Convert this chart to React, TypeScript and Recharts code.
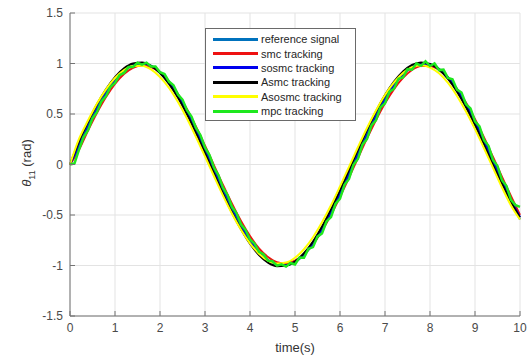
import React from 'react';
import { LineChart, Line, XAxis, YAxis, CartesianGrid, Legend } from 'recharts';

// time bases (s)
const timeCoarse = [
  0, 0.2, 0.4, 0.6, 0.8, 1, 1.2, 1.4, 1.6, 1.8, 2, 2.2, 2.4, 2.6, 2.8, 3, 3.2, 3.4, 3.6, 3.8,
  4, 4.2, 4.4, 4.6, 4.8, 5, 5.2, 5.4, 5.6, 5.8, 6, 6.2, 6.4, 6.6, 6.8, 7, 7.2, 7.4, 7.6, 7.8,
  8, 8.2, 8.4, 8.6, 8.8, 9, 9.2, 9.4, 9.6, 9.8, 10,
];
const timeFine = [
  0, 0.1, 0.2, 0.3, 0.4, 0.5, 0.6, 0.7, 0.8, 0.9,
  1, 1.1, 1.2, 1.3, 1.4, 1.5, 1.6, 1.7, 1.8, 1.9,
  2, 2.1, 2.2, 2.3, 2.4, 2.5, 2.6, 2.7, 2.8, 2.9,
  3, 3.1, 3.2, 3.3, 3.4, 3.5, 3.6, 3.7, 3.8, 3.9,
  4, 4.1, 4.2, 4.3, 4.4, 4.5, 4.6, 4.7, 4.8, 4.9,
  5, 5.1, 5.2, 5.3, 5.4, 5.5, 5.6, 5.7, 5.8, 5.9,
  6, 6.1, 6.2, 6.3, 6.4, 6.5, 6.6, 6.7, 6.8, 6.9,
  7, 7.1, 7.2, 7.3, 7.4, 7.5, 7.6, 7.7, 7.8, 7.9,
  8, 8.1, 8.2, 8.3, 8.4, 8.5, 8.6, 8.7, 8.8, 8.9,
  9, 9.1, 9.2, 9.3, 9.4, 9.5, 9.6, 9.7, 9.8, 9.9,
  10,
];

// theta_11 (rad)
const referenceSignal = [
  0, 0.199, 0.389, 0.565, 0.717, 0.841, 0.932, 0.985, 1.0, 0.974, 0.909, 0.809, 0.676, 0.516, 0.335, 0.141,
  -0.058, -0.256, -0.443, -0.612, -0.757, -0.872, -0.952, -0.994, -0.996, -0.959, -0.884, -0.773, -0.631,
  -0.465, -0.279, -0.083, 0.117, 0.312, 0.494, 0.657, 0.794, 0.899, 0.968, 0.999, 0.989, 0.941, 0.855,
  0.734, 0.585, 0.412, 0.223, 0.025, -0.174, -0.367, -0.544,
];
const smcTracking = [
  0, 0.146, 0.336, 0.512, 0.668, 0.797, 0.895, 0.956, 0.98, 0.964, 0.91, 0.82, 0.697, 0.547, 0.374, 0.186,
  -0.008, -0.203, -0.389, -0.56, -0.709, -0.83, -0.916, -0.967, -0.979, -0.952, -0.887, -0.79, -0.656,
  -0.498, -0.32, -0.13, 0.066, 0.259, 0.441, 0.606, 0.747, 0.858, 0.936, 0.975, 0.975, 0.937, 0.86, 0.75,
  0.611, 0.448, 0.267, 0.074, -0.122, -0.314, -0.5,
];
const sosmcTracking = [
  0, 0.179, 0.371, 0.548, 0.703, 0.83, 0.925, 0.982, 1.0, 0.979, 0.917, 0.821, 0.691, 0.533, 0.354, 0.161,
  -0.038, -0.237, -0.425, -0.596, -0.744, -0.862, -0.946, -0.992, -0.998, -0.965, -0.893, -0.786, -0.647,
  -0.483, -0.298, -0.103, 0.097, 0.293, 0.477, 0.642, 0.782, 0.89, 0.963, 0.998, 0.992, 0.948, 0.865,
  0.748, 0.601, 0.43, 0.243, 0.045, -0.154, -0.348, -0.52,
];
const asmcTracking = [
  0, 0.23, 0.421, 0.596, 0.745, 0.866, 0.952, 1.0, 1.009, 0.977, 0.906, 0.799, 0.661, 0.495, 0.31, 0.112,
  -0.089, -0.288, -0.475, -0.642, -0.785, -0.896, -0.971, -1.007, -1.003, -0.96, -0.879, -0.762, -0.614,
  -0.442, -0.253, -0.054, 0.148, 0.343, 0.525, 0.687, 0.82, 0.921, 0.986, 1.011, 0.995, 0.94, 0.847, 0.721,
  0.567, 0.389, 0.196, -0.005, -0.19, -0.37, -0.525,
];
const asosmcTracking = [
  0, 0.253, 0.435, 0.603, 0.744, 0.856, 0.935, 0.975, 0.978, 0.941, 0.866, 0.759, 0.619, 0.456, 0.272, 0.08,
  -0.116, -0.308, -0.487, -0.646, -0.78, -0.883, -0.951, -0.981, -0.971, -0.923, -0.839, -0.72, -0.572,
  -0.404, -0.217, -0.023, 0.173, 0.362, 0.535, 0.688, 0.813, 0.907, 0.963, 0.982, 0.96, 0.903, 0.808,
  0.679, 0.525, 0.35, 0.161, -0.034, -0.228, -0.405, -0.545,
];
const mpcTracking = [
  0, 0.01, 0.148, 0.27, 0.34, 0.456, 0.52, 0.625, 0.677, 0.77,
  0.808, 0.885, 0.906, 0.965, 0.966, 1.007, 0.989, 1.009, 0.971, 0.971,
  0.914, 0.895, 0.821, 0.785, 0.693, 0.643, 0.538, 0.475, 0.361, 0.29,
  0.169, 0.094, -0.03, -0.107, -0.229, -0.302, -0.419, -0.484, -0.592, -0.647,
  -0.743, -0.783, -0.864, -0.888, -0.952, -0.958, -1.002, -0.988, -1.011, -0.975,
  -0.99, -0.921, -0.923, -0.834, -0.818, -0.714, -0.682, -0.564, -0.52, -0.391,
  -0.337, -0.201, -0.143, -0.003, 0.057, 0.196, 0.254, 0.388, 0.439, 0.565,
  0.607, 0.722, 0.75, 0.849, 0.861, 0.944, 0.938, 1.002, 0.977, 1.021,
  0.975, 1.0, 0.935, 0.939, 0.856, 0.843, 0.741, 0.713, 0.597, 0.556,
  0.428, 0.377, 0.242, 0.185, 0.045, -0.015, -0.155, -0.214, -0.35, -0.402,
  -0.42,
];

const xTicks = [0, 1, 2, 3, 4, 5, 6, 7, 8, 9, 10];
const yTicks = [-1.5, -1, -0.5, 0, 0.5, 1, 1.5];

const seriesNames = ['reference signal', 'smc tracking', 'sosmc tracking', 'Asmc tracking', 'Asosmc tracking', 'mpc tracking'];
const seriesColors = ['#0072BD', '#ee1111', '#0000ee', '#000000', '#ffff00', '#1ee81e'];

const toPoints = (ts: number[], ys: number[]) => ts.map((t, i) => ({ t, y: ys[i] }));

const series = [
  { data: toPoints(timeCoarse, referenceSignal), width: 2, type: 'monotone' },
  { data: toPoints(timeCoarse, smcTracking), width: 2, type: 'monotone' },
  { data: toPoints(timeCoarse, sosmcTracking), width: 2, type: 'monotone' },
  { data: toPoints(timeCoarse, asmcTracking), width: 2, type: 'monotone' },
  { data: toPoints(timeCoarse, asosmcTracking), width: 2, type: 'monotone' },
  { data: toPoints(timeFine, mpcTracking), width: 2.5, type: 'linear' },
];

const FONT = '"Liberation Sans", Arial, Helvetica, sans-serif';
const AXIS = '#737373';
const tickStyle = { fill: '#4a4a4a', fontSize: 12, fontFamily: FONT };

const YLabel = () => (
  <text transform="translate(31,163) rotate(-90)" textAnchor="middle" fill="#333" fontSize={13} fontFamily={FONT}>
    <tspan fontStyle="italic">θ</tspan>
    <tspan dy={4} fontSize={9}>11</tspan>
    <tspan dy={-4}> (rad)</tspan>
  </text>
);

const LegendBox = () => (
  <div
    style={{
      width: 151,
      height: 93,
      boxSizing: 'border-box',
      border: '1px solid #6a6a6a',
      background: '#fff',
      padding: '3px 0 0 7px',
      fontFamily: FONT,
      fontSize: 11,
      color: '#262626',
      textAlign: 'left',
    }}
  >
    {seriesNames.map((name, i) => (
      <div key={name} style={{ display: 'flex', alignItems: 'center', height: 14.4, whiteSpace: 'nowrap' }}>
        <span style={{ display: 'inline-block', width: 45, borderTop: `3px solid ${seriesColors[i]}`, marginRight: 3 }} />
        <span>{name}</span>
      </div>
    ))}
  </div>
);

export default function App() {
  return (
    <div style={{ position: 'absolute', left: 0, top: 0, width: 529, height: 358, background: '#fff' }}>
      <LineChart width={529} height={358} margin={{ top: 13, right: 9, bottom: 0, left: 0 }}>
        <CartesianGrid stroke="#e3e3e3" />
        <XAxis
          dataKey="t"
          type="number"
          domain={[0, 10]}
          ticks={xTicks}
          allowDuplicatedCategory={false}
          height={42}
          stroke={AXIS}
          tickSize={-5}
          tickMargin={12}
          tick={tickStyle}
          label={{ value: 'time(s)', position: 'insideBottom', offset: 6, fill: '#333', fontSize: 13, fontFamily: FONT }}
        />
        <XAxis
          xAxisId="top"
          orientation="top"
          dataKey="t"
          type="number"
          domain={[0, 10]}
          ticks={xTicks}
          height={0}
          stroke={AXIS}
          tickSize={-5}
          tickFormatter={() => ''}
        />
        <YAxis
          type="number"
          domain={[-1.5, 1.5]}
          ticks={yTicks}
          width={70}
          stroke={AXIS}
          tickSize={-5}
          tickMargin={12}
          tick={tickStyle}
          tickFormatter={(v: number) => String(v)}
          label={<YLabel />}
        />
        <YAxis
          yAxisId="right"
          orientation="right"
          type="number"
          domain={[-1.5, 1.5]}
          ticks={yTicks}
          width={0}
          stroke={AXIS}
          tickSize={-5}
          tickFormatter={() => ''}
        />
        {series.map((s, i) => (
          <Line
            key={seriesNames[i]}
            data={s.data}
            dataKey="y"
            name={seriesNames[i]}
            type={s.type as 'monotone' | 'linear'}
            stroke={seriesColors[i]}
            strokeWidth={s.width}
            dot={false}
            isAnimationActive={false}
          />
        ))}
        <Legend
          layout="vertical"
          align="center"
          verticalAlign="middle"
          content={<LegendBox />}
          wrapperStyle={{ position: 'absolute', left: 205, top: 28, width: 151, height: 93 }}
        />
      </LineChart>
    </div>
  );
}
